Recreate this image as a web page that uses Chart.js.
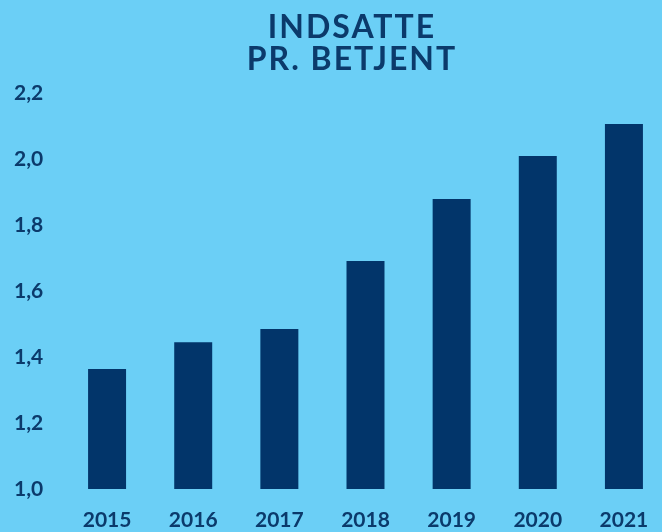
<!DOCTYPE html>
<html>
<head>
<meta charset="utf-8">
<script src="https://cdn.jsdelivr.net/npm/chart.js@4"></script>
<style>
  html, body { margin: 0; padding: 0; background: #6bcff6; width: 662px; height: 532px; overflow: hidden; }
  #wrap { position: relative; width: 662px; height: 532px; overflow: hidden; }
  #title {
    position: absolute; left: 152px; top: 10px; width: 400px;
    text-align: center; font-family: Lato, sans-serif; font-weight: 700;
    font-size: 32px; line-height: 32px; letter-spacing: 2px; color: #0b3a6b;
  }
  canvas { position: absolute; left: 0; top: 0; }
</style>
</head>
<body>
<div id="wrap">
  <canvas id="c" width="668" height="532"></canvas>
  <div id="title">INDSATTE<br>PR. BETJENT</div>
</div>
<script>
const categories = ['2015', '2016', '2017', '2018', '2019', '2020', '2021'];
const values = [1.364, 1.445, 1.485, 1.691, 1.879, 2.009, 2.106];
const yMin = 1.0;
const yMax = 2.2;
const yStep = 0.2;

const textColor = '#0b3a6b';
const barColor = '#02356a';

function draw() {
  new Chart(document.getElementById('c'), {
    type: 'bar',
    data: {
      labels: categories,
      datasets: [{
        data: values,
        backgroundColor: barColor,
        borderWidth: 0,
        categoryPercentage: 1,
        barPercentage: 0.441
      }]
    },
    options: {
      responsive: false,
      devicePixelRatio: 1,
      animation: false,
      layout: { padding: { top: 93, left: 14, right: 1, bottom: 0 } },
      plugins: { legend: { display: false }, title: { display: false }, tooltip: { enabled: false } },
      scales: {
        x: {
          grid: { display: false, drawTicks: false },
          border: { display: false },
          ticks: {
            color: textColor,
            padding: 19,
            maxRotation: 0,
            font: { family: 'Lato', weight: 'bold', size: 21, lineHeight: 1.2 }
          },
          afterFit: (s) => { s.height = 43; }
        },
        y: {
          min: yMin,
          max: yMax,
          grid: { display: false, drawTicks: false },
          border: { display: false },
          ticks: {
            stepSize: yStep,
            color: textColor,
            crossAlign: 'far',
            padding: 0,
            font: { family: 'Lato', weight: 'bold', size: 21 },
            callback: (v) => Number(v).toFixed(1).replace('.', ',')
          },
          afterFit: (s) => { s.width = 50; }
        }
      }
    }
  });
}
if (document.fonts && document.fonts.load) {
  Promise.all([document.fonts.load('bold 21px Lato'), document.fonts.load('bold 32px Lato')]).then(draw, draw);
} else { draw(); }
</script>
</body>
</html>
